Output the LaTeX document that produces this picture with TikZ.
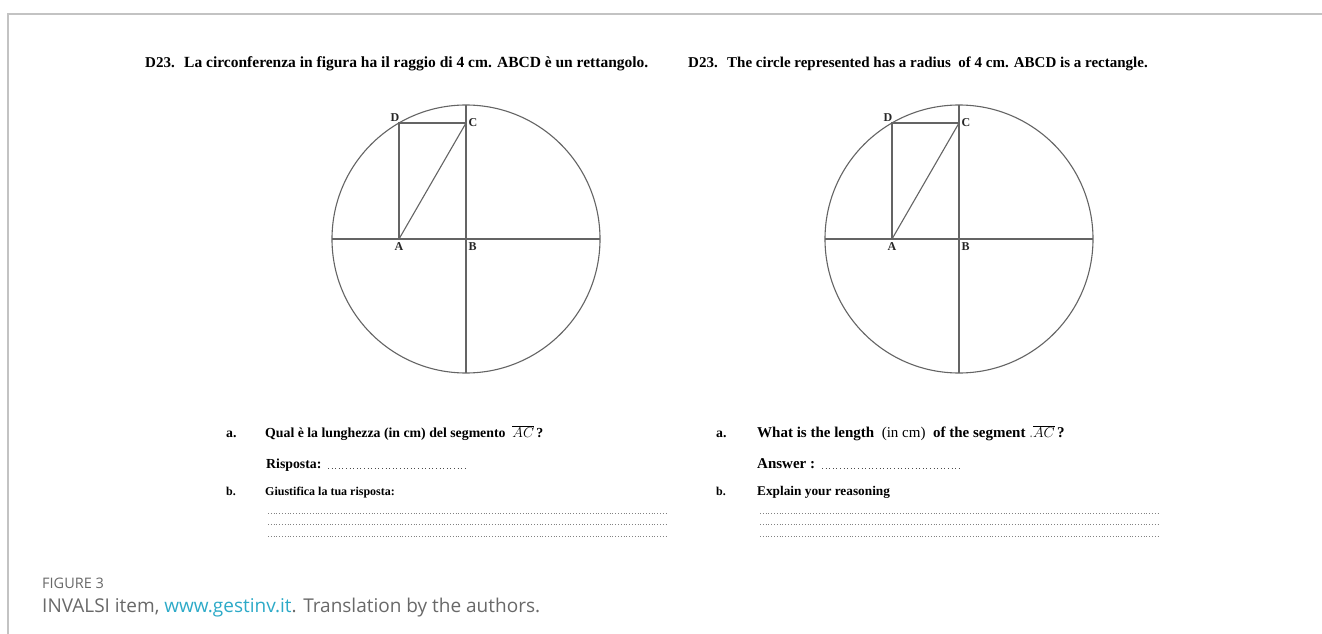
\documentclass[tikz,border=0pt]{standalone}
\usepackage{fontspec}
\setmainfont{Liberation Serif}
\newfontfamily\capfont{Open Sans}
\definecolor{framegray}{RGB}{195,195,195}
\definecolor{linegray}{RGB}{100,100,100}
\definecolor{dotgray}{RGB}{130,130,130}
\definecolor{capgray}{RGB}{105,105,105}
\definecolor{linkcyan}{RGB}{45,170,200}
\tikzset{
  figline/.style={draw=linegray, line width=1.1pt},
  ptlabel/.style={font=\fontsize{12}{14}\selectfont\bfseries, inner sep=0.5pt, text=black!85},
  titletext/.style={anchor=base west, inner sep=0pt, font=\fontsize{15}{18}\selectfont\bfseries},
  qtext/.style={anchor=base west, inner sep=0pt, font=\fontsize{13.8}{16}\selectfont\bfseries},
  rtext/.style={anchor=base west, inner sep=0pt, font=\fontsize{15}{18}\selectfont\bfseries},
  dotline/.style={draw=dotgray, line width=0.9pt, dash pattern=on 0.9pt off 1.9pt},
  ansdots/.style={draw=black!70, line width=1pt, dash pattern=on 1pt off 2.6pt},
  geofig/.pic={
    \coordinate (-B) at (0,0);
    \coordinate (-A) at (-67,0);
    \coordinate (-D) at (-67,-116);
    \coordinate (-C) at (0,-116);
    \coordinate (-W) at (-134,0);
    \coordinate (-E) at (134,0);
    \coordinate (-N) at (0,-134);
    \coordinate (-S) at (0,134);
    \draw[figline] (-B) circle[radius=134];
    \draw[figline] (-W) -- (-E);
    \draw[figline] (-N) -- (-S);
    \draw[figline] (-A) -- (-D) -- (-C);
    \draw[figline] (-A) -- (-C);
    \node[ptlabel, anchor=south east] (-lD) at ([xshift=1pt,yshift=1pt]-D) {D};
    \node[ptlabel, anchor=west] (-lC) at ([xshift=2pt]-C) {C};
    \node[ptlabel, anchor=north] (-lA) at ([yshift=-3pt]-A) {A};
    \node[ptlabel, anchor=north west] (-lB) at ([xshift=2pt,yshift=-3pt]-B) {B};
  }
}
\begin{document}
\begin{tikzpicture}[x=1pt,y=-1pt]
\useasboundingbox (0,0) rectangle (1322,634);
\fill[white] (0,0) rectangle (1322,634);
\coordinate (fbl) at (8,634);
\coordinate (ftl) at (8,14);
\coordinate (ftr) at (1322,14);
\draw[framegray, line width=2pt] (fbl) -- (ftl) -- (ftr);

% titles
\node[titletext] (t1n) at (145,67) {D23.};
\node[titletext, font=\fontsize{15.5}{18}\selectfont\bfseries] (t1) at (184,67) {La circonferenza in figura ha il raggio di 4 cm. ABCD è un rettangolo.};
\node[titletext] (t2n) at (688,67) {D23.};
\node[titletext] (t2) at (727,67) {The circle represented has a radius\ \ of 4 cm. ABCD is a rectangle.};

% figures
\pic (f1) at (466,239) {geofig};
\pic (f2) at (959,239) {geofig};

% left questions
\node[qtext] (la) at (226,437) {a.};
\node[qtext] (lq) at (265,437) {Qual è la lunghezza (in cm) del segmento \ {\fontsize{15}{18}\selectfont$\overline{AC}$}\,?};
\node[qtext] (lr) at (266,468) {Risposta:};
\coordinate (lrds) at (328,468); \coordinate (lrde) at (468,468);
\draw[ansdots] (lrds) -- (lrde);
\node[qtext, font=\fontsize{12}{14}\selectfont\bfseries] (lb) at (226,495) {b.};
\node[qtext, font=\fontsize{12}{14}\selectfont\bfseries] (lg) at (265,495) {Giustifica la tua risposta:};
\coordinate (ld1s) at (268,513); \coordinate (ld1e) at (668,513);
\coordinate (ld2s) at (268,524); \coordinate (ld2e) at (668,524);
\coordinate (ld3s) at (268,536); \coordinate (ld3e) at (668,536);
\draw[dotline] (ld1s) -- (ld1e);
\draw[dotline] (ld2s) -- (ld2e);
\draw[dotline] (ld3s) -- (ld3e);

% right questions
\node[qtext] (ra) at (716,437) {a.};
\node[rtext] (rq) at (757,437) {What is the length \ \mdseries(in cm)\ \ \bfseries of the segment {\mdseries\color{dotgray}.}{\fontsize{15}{18}\selectfont$\overline{AC}$}\,?};
\node[rtext] (rr) at (757,468) {Answer :};
\coordinate (rrds) at (822,468); \coordinate (rrde) at (960,468);
\draw[ansdots] (rrds) -- (rrde);
\node[qtext, font=\fontsize{12}{14}\selectfont\bfseries] (rb) at (716,495) {b.};
\node[qtext, font=\fontsize{13.3}{15}\selectfont\bfseries] (re) at (757,495) {Explain your reasoning};
\coordinate (rd1s) at (760,513); \coordinate (rd1e) at (1160,513);
\coordinate (rd2s) at (760,524); \coordinate (rd2e) at (1160,524);
\coordinate (rd3s) at (760,536); \coordinate (rd3e) at (1160,536);
\draw[dotline] (rd1s) -- (rd1e);
\draw[dotline] (rd2s) -- (rd2e);
\draw[dotline] (rd3s) -- (rd3e);

% caption
\node[anchor=base west, inner sep=0pt, font=\capfont\fontsize{14.5}{16}\selectfont, text=capgray] (capl) at (42,588) {FIGURE 3};
\node[anchor=base west, inner sep=0pt, font=\capfont\fontsize{19}{22}\selectfont, text=capgray] (capt) at (42,612) {INVALSI item, {\color{linkcyan}www.gestinv.it}. Translation by the authors.};
\end{tikzpicture}
\end{document}
